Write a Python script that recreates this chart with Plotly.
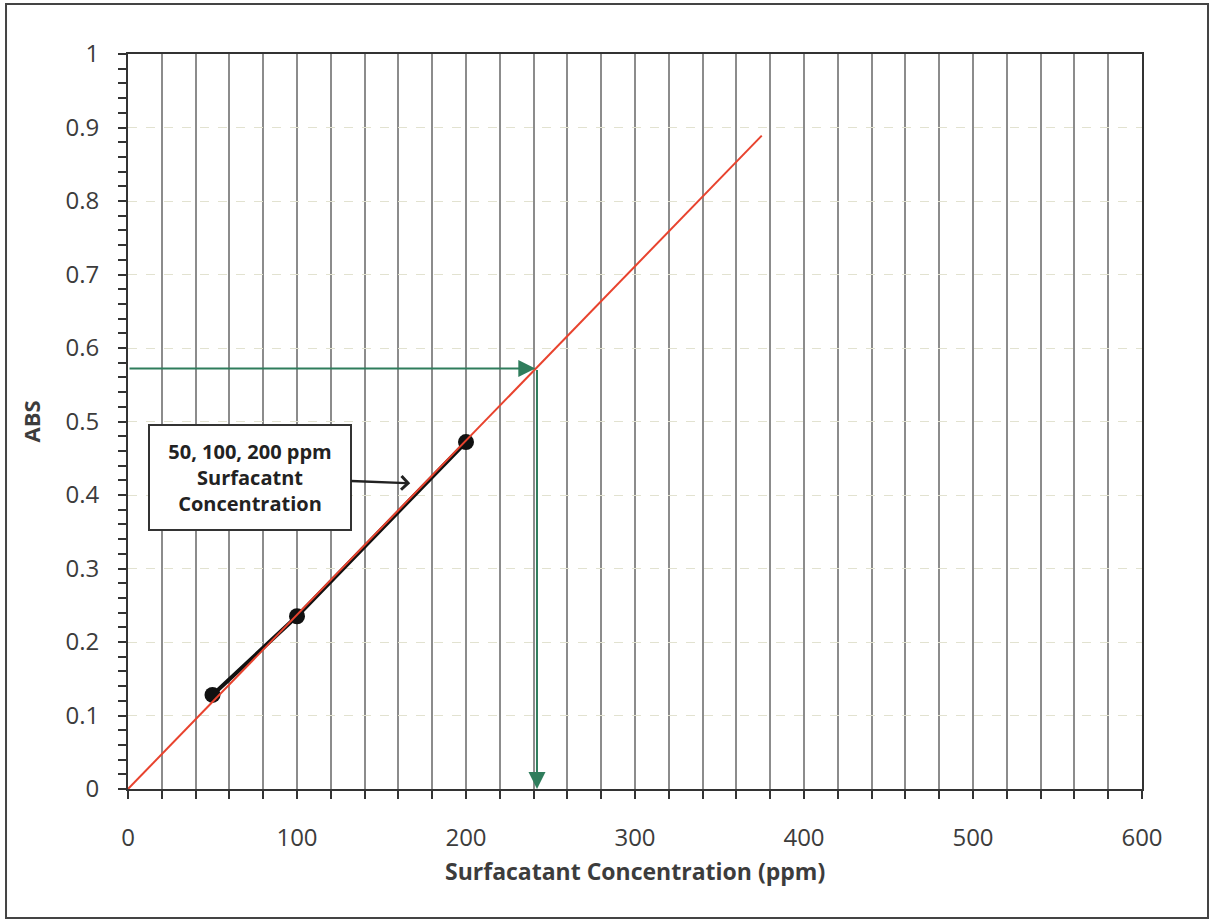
import plotly.graph_objects as go

# Calibration data: surfactant concentration (ppm) vs absorbance
conc_ppm = [50, 100, 200]
abs_values = [0.128, 0.235, 0.472]

# Linear calibration fit drawn through the origin
fit_x = [0, 375]
fit_y = [0, 0.889]

# Unknown sample read-off on the calibration line
sample_abs = 0.572
sample_conc = 242

x_ticks = [0, 100, 200, 300, 400, 500, 600]
y_ticks = [0, 0.1, 0.2, 0.3, 0.4, 0.5, 0.6, 0.7, 0.8, 0.9, 1]

FONT = "Open Sans, Liberation Sans, sans-serif"
TXT = "#3c3c3c"
GREEN = "#2f7d5c"
RED = "#e8432e"

fig = go.Figure()

fig.add_trace(go.Scatter(
    x=conc_ppm, y=abs_values, mode="lines+markers",
    line=dict(color="#111111", width=4),
    marker=dict(color="#111111", size=16),
))
fig.add_trace(go.Scatter(
    x=fit_x, y=fit_y, mode="lines",
    line=dict(color=RED, width=2), hoverinfo="skip",
))

# Horizontal read-off arrow (ABS -> calibration line)
fig.add_annotation(
    x=sample_conc - 1, y=sample_abs, ax=0, ay=sample_abs,
    xref="x", yref="y", axref="x", ayref="y",
    showarrow=True, arrowhead=2, arrowsize=1.7, arrowwidth=2,
    arrowcolor=GREEN, text="",
)
# Vertical read-off arrow (calibration line -> concentration)
fig.add_annotation(
    x=sample_conc, y=0, ax=sample_conc, ay=sample_abs,
    xref="x", yref="y", axref="x", ayref="y",
    showarrow=True, arrowhead=2, arrowsize=1.7, arrowwidth=2,
    arrowcolor=GREEN, text="",
)

# Callout box pointing at the measured points
fig.add_annotation(
    x=167, y=0.416, ax=-160, ay=-6, xref="x", yref="y",
    text="<b>50, 100, 200 ppm<br>Surfacatnt<br>Concentration</b>",
    showarrow=True, arrowhead=4, arrowsize=1.1, arrowwidth=2.4,
    arrowcolor="#222222",
    font=dict(family=FONT, size=20, color="#222222"),
    bgcolor="white", bordercolor="#333333", borderwidth=2,
    borderpad=12, width=176, align="center",
)

# Axis titles
fig.add_annotation(
    x=0.5, y=-0.112, xref="paper", yref="paper", showarrow=False,
    text="<b>Surfacatant Concentration (ppm)</b>",
    font=dict(family=FONT, size=23, color=TXT),
    xanchor="center", yanchor="middle",
)
fig.add_annotation(
    x=-0.0966, y=0.5, xref="paper", yref="paper", showarrow=False,
    text="<b>ABS</b>", textangle=-90,
    font=dict(family=FONT, size=22, color=TXT),
    xanchor="center", yanchor="middle",
)

# Outer frame
fx0, fx1, fy0, fy1 = -0.1203, 1.0651, -0.1755, 1.068
fig.add_shape(type="rect", xref="paper", yref="paper",
              x0=fx0, y0=fy0, x1=fx1, y1=fy1,
              line=dict(color="#444444", width=2), layer="below")

fig.update_layout(
    width=1210, height=919,
    margin=dict(l=128, r=68, t=54, b=130),
    paper_bgcolor="white", plot_bgcolor="white",
    showlegend=False,
    font=dict(family=FONT, color=TXT, size=24),
)
fig.update_xaxes(
    range=[0, 600], tickvals=x_ticks, ticktext=[str(v) for v in x_ticks],
    ticks="outside", ticklen=8, tickwidth=2, tickcolor="#333333",
    showline=True, linecolor="#333333", linewidth=2, mirror=True,
    showgrid=True, gridcolor="#8c8c8c", gridwidth=1.5,
    minor=dict(dtick=20, ticks="outside", ticklen=8, tickwidth=2,
               tickcolor="#333333", showgrid=True,
               gridcolor="#8c8c8c", gridwidth=1.5),
    tickfont=dict(family=FONT, size=24, color=TXT),
    ticklabelstandoff=18,
    zeroline=False,
)
fig.update_yaxes(
    range=[0, 1], tickvals=y_ticks, ticktext=[f"{v:g}" for v in y_ticks],
    ticks="outside", ticklen=8, tickwidth=2, tickcolor="#333333",
    showline=True, linecolor="#333333", linewidth=2, mirror=True,
    showgrid=True, gridcolor="#e2e2d0", gridwidth=1, griddash="dash",
    minor=dict(dtick=0.02, ticks="outside", ticklen=8, tickwidth=2,
               tickcolor="#333333", showgrid=False),
    tickfont=dict(family=FONT, size=24, color=TXT),
    ticklabelstandoff=14,
    zeroline=False,
)

fig.write_html("out.html")
